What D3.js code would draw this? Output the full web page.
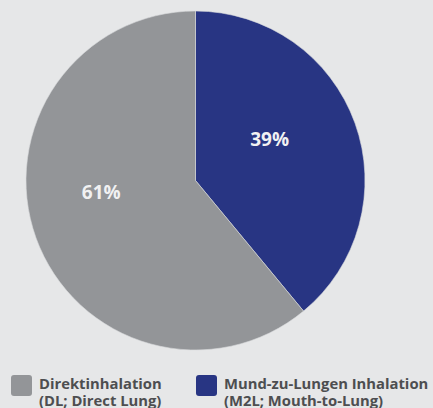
<!DOCTYPE html>
<html><head><meta charset="utf-8">
<script src="https://cdn.jsdelivr.net/npm/d3@7/dist/d3.min.js"></script>
<style>
html,body{margin:0;padding:0;background:#e6e7e8;}
svg{display:block;}
</style></head>
<body>
<svg id="chart" width="433" height="408"></svg>
<script>
const categories = ["Mund-zu-Lungen Inhalation", "Direktinhalation"];
const subLabels = ["(M2L; Mouth-to-Lung)", "(DL; Direct Lung)"];
const values = [39, 61];
const colors = ["#283583", "#939598"];
const valueLabels = ["39%", "61%"];

const svg = d3.select("#chart");
const W = 433, H = 408;
svg.append("rect").attr("width", W).attr("height", H).attr("fill", "#e6e7e8");

const cx = 195.5, cy = 180.5, R = 169.5;
const g = svg.append("g").attr("transform", `translate(${cx},${cy})`);

const pie = d3.pie().sort(null).value(d => d)(values);
const arc = d3.arc().innerRadius(0).outerRadius(R);

g.selectAll("path.slice").data(pie).enter().append("path")
  .attr("class", "slice")
  .attr("d", arc)
  .attr("fill", (d, i) => colors[i])
  .attr("stroke", "#d9dadb")
  .attr("stroke-width", 0.6);

// label placement: polar angle tweak and radius relative to slice middle
const labelAngleShift = [-0.165, 0.218];
const labelRadius = [85, 95];
g.selectAll("text.val").data(pie).enter().append("text")
  .attr("class", "val")
  .attr("transform", (d, i) => {
    const a = (d.startAngle + d.endAngle) / 2 + labelAngleShift[i];
    const p = d3.pointRadial(a, labelRadius[i]);
    return `translate(${p[0]},${p[1]})`;
  })
  .attr("text-anchor", "middle")
  .attr("dy", "0.36em")
  .attr("font-family", "'Open Sans', sans-serif")
  .attr("font-weight", 700)
  .attr("font-size", 19)
  .attr("fill", "#f1f1f2")
  .text((d, i) => valueLabels[i]);

// legend (order: gray first, then blue)
const legendOrder = [1, 0];
const legendX = [11, 196];
const lg = svg.append("g");
legendOrder.forEach((idx, k) => {
  const item = lg.append("g").attr("transform", `translate(${legendX[k]},375)`);
  item.append("rect").attr("width", 21).attr("height", 21).attr("rx", 3)
    .attr("fill", colors[idx]);
  const t = item.append("text")
    .attr("x", 28).attr("y", 13.5)
    .attr("font-family", "'Open Sans', sans-serif")
    .attr("font-weight", 700)
    .attr("font-size", 14.8)
    .attr("fill", "#4d4e50");
  t.append("tspan").attr("x", 28).text(categories[idx]);
  t.append("tspan").attr("x", 28).attr("dy", 17.5).text(subLabels[idx]);
});
</script>
</body></html>
